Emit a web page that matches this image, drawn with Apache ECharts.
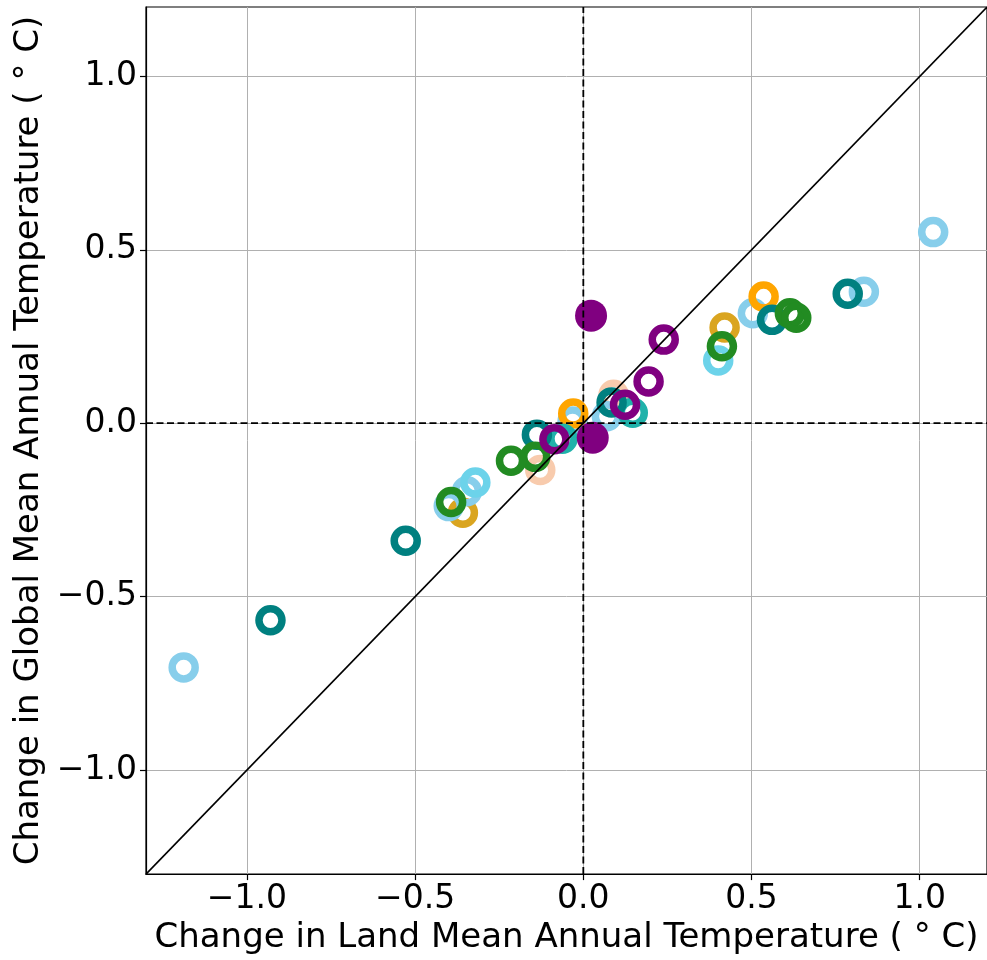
<!DOCTYPE html>
<html>
<head>
<meta charset="utf-8">
<script src="https://cdn.jsdelivr.net/npm/echarts@6/dist/echarts.min.js"></script>
<style>
html,body{margin:0;padding:0;background:#fff;}
#chart{width:987px;height:960px;}
</style>
</head>
<body>
<div id="chart"></div>
<script>
// ---- data (land change, global change) ----
const peachPts      = [[0.090, 0.082], [-0.128, -0.135]];
const goldenrodPts  = [[0.420, 0.276], [-0.358, -0.258]];
const skybluePts    = [[1.040, 0.551], [0.834, 0.379], [0.504, 0.317], [0.070, 0.020], [-0.032, 0.005], [-0.346, -0.196], [-0.400, -0.239], [-1.188, -0.704]];
const orangePts     = [[0.536, 0.365], [-0.030, 0.028]];
const cyanPts       = [[0.401, 0.181], [-0.321, -0.171]];
const seagreenPts   = [[0.147, 0.030], [-0.062, -0.045]];
const tealPts       = [[0.786, 0.373], [0.561, 0.298], [0.084, 0.060], [-0.138, -0.033], [-0.528, -0.339], [-0.930, -0.568]];
const greenPts      = [[0.614, 0.317], [0.633, 0.304], [0.412, 0.222], [-0.143, -0.097], [-0.215, -0.108], [-0.393, -0.227]];
const purpleRingPts = [[0.239, 0.241], [0.194, 0.120], [0.124, 0.053], [-0.086, -0.046]];
const purpleDotPts  = [[0.023, 0.310], [0.028, -0.042]];

const xTicks = [-1.0, -0.5, 0.0, 0.5, 1.0];
const yTicks = [-1.0, -0.5, 0.0, 0.5, 1.0];
const axisMin = -1.3, axisMax = 1.2;

const xTitle = 'Change in Land Mean Annual Temperature ( ° C)';
const yTitle = 'Change in Global Mean Annual Temperature ( ° C)';

// ---- chart ----
const FONT = 'DejaVu Sans';
const fmt = v => (v < 0 ? '\u2212' : '') + Math.abs(v).toFixed(1);

function ring(data, color) {
  return {
    type: 'scatter', data: data, symbol: 'circle', symbolSize: 23, z: 3,
    itemStyle: { color: 'rgba(255,255,255,0)', borderColor: color, borderWidth: 7.5, opacity: 1 },
    emphasis: { disabled: true }, silent: true
  };
}

function axisCommon(ticks, name, gap) {
  return {
    type: 'value', min: axisMin, max: axisMax,
    name: name, nameLocation: 'middle', nameGap: gap,
    nameTextStyle: { fontFamily: FONT, fontSize: 34, color: '#000' },
    axisLine: { show: true, onZero: false, lineStyle: { color: '#000', width: 1.2 } },
    axisTick: { show: true, inside: false, length: 6, customValues: ticks, lineStyle: { color: '#000', width: 1.2 } },
    axisLabel: { customValues: ticks, fontFamily: FONT, fontSize: 33, color: '#000', margin: 9, formatter: fmt },
    splitLine: { show: true, lineStyle: { color: '#b0b0b0', width: 1 } }
  };
}

const chart = echarts.init(document.getElementById('chart'), null, { renderer: 'canvas' });
chart.setOption({
  animation: false,
  backgroundColor: '#fff',
  grid: { left: 146, top: 7, width: 845, height: 869, show: true, borderColor: '#000', borderWidth: 1.2, backgroundColor: 'transparent' },
  xAxis: axisCommon(xTicks, xTitle, 46),
  yAxis: axisCommon(yTicks, yTitle, 99),
  series: [
    ring(peachPts, '#F8CBAD'),
    ring(goldenrodPts, '#DAA520'),
    ring(skybluePts, '#87CEEB'),
    ring(orangePts, '#FFA500'),
    ring(cyanPts, '#6CD3EA'),
    ring(seagreenPts, '#20B2AA'),
    ring(tealPts, '#008080'),
    ring(greenPts, '#228B22'),
    ring(purpleRingPts, '#800080'),
    {
      type: 'scatter', data: purpleDotPts, symbol: 'circle', symbolSize: 32, z: 3,
      itemStyle: { color: '#800080', opacity: 1 }, emphasis: { disabled: true }, silent: true
    },
    {
      type: 'line', data: [[axisMin, 0], [axisMax, 0]], symbol: 'none', z: 5, silent: true,
      lineStyle: { color: '#000', width: 1.8, type: [7, 3.5] }
    },
    {
      type: 'line', data: [[0, axisMin], [0, axisMax]], symbol: 'none', z: 5, silent: true,
      lineStyle: { color: '#000', width: 1.8, type: [7, 3.5] }
    },
    {
      type: 'line', data: [[axisMin, axisMin], [axisMax, axisMax]], symbol: 'none', z: 5, silent: true,
      lineStyle: { color: '#000', width: 1.6 }
    }
  ]
});
</script>
</body>
</html>
